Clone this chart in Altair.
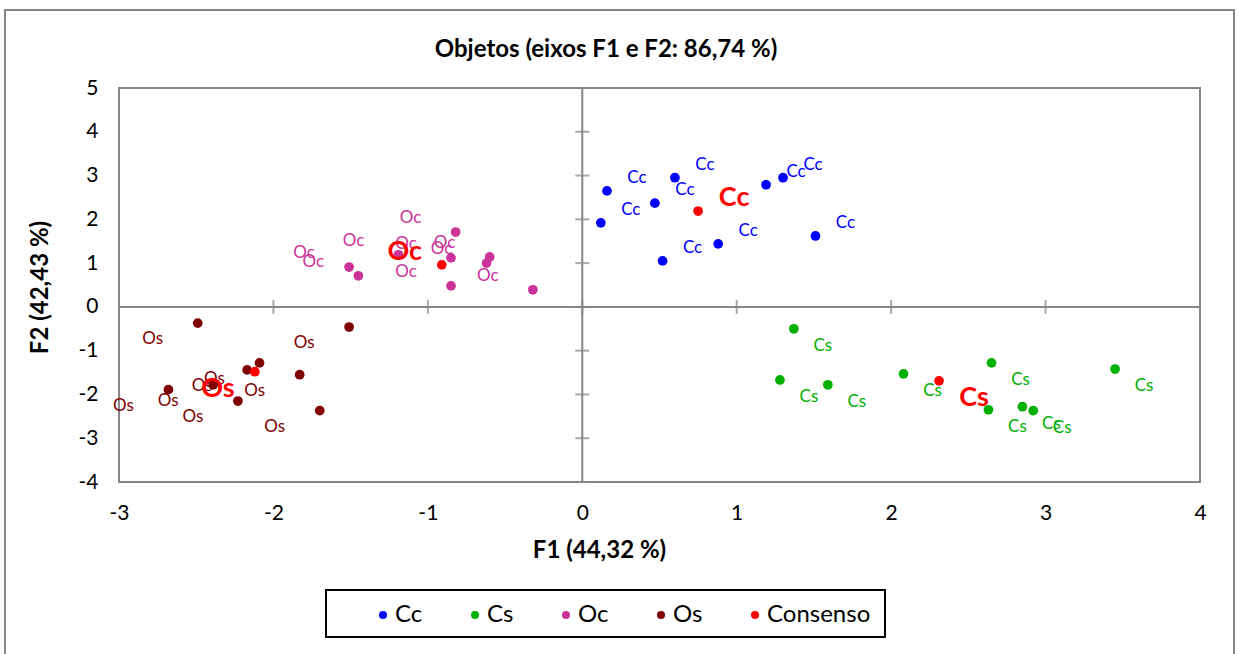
import altair as alt
import pandas as pd

# ---- data ----
grupos = ["Cc", "Cs", "Oc", "Os"]
cc_x = [0.16, 0.12, 0.60, 0.47, 0.52, 0.88, 1.19, 1.30, 1.51]
cc_y = [2.65, 1.92, 2.95, 2.37, 1.05, 1.44, 2.79, 2.95, 1.62]
cs_x = [1.37, 1.28, 1.59, 2.08, 2.65, 3.45, 2.63, 2.85, 2.92]
cs_y = [-0.50, -1.67, -1.78, -1.53, -1.28, -1.42, -2.35, -2.28, -2.37]
oc_x = [-0.82, -0.85, -0.60, -0.62, -1.51, -1.45, -1.19, -0.85, -0.32]
oc_y = [1.71, 1.12, 1.14, 1.00, 0.91, 0.71, 1.19, 0.48, 0.39]
os_x = [-2.49, -1.51, -2.09, -2.17, -1.83, -2.68, -2.39, -2.23, -1.70]
os_y = [-0.37, -0.46, -1.28, -1.44, -1.55, -1.89, -1.78, -2.15, -2.37]
cons_x = [0.75, 2.31, -0.91, -2.12]
cons_y = [2.19, -1.69, 0.96, -1.48]

x_ticks = [-3, -2, -1, 0, 1, 2, 3, 4]
y_ticks = [-4, -3, -2, -1, 0, 1, 2, 3, 4, 5]

legend_order = ["Cc", "Cs", "Oc", "Os", "Consenso"]
colors = ["#0000FF", "#00B000", "#CC3399", "#800000", "#FF0000"]

chart_title = "Objetos (eixos F1 e F2: 86,74 %)"
x_title = "F1 (44,32 %)"
y_title = "F2 (42,43 %)"

# ---- build tables ----
rows = []
for g, xs, ys in zip(grupos, [cc_x, cs_x, oc_x, os_x], [cc_y, cs_y, oc_y, os_y]):
    for xv, yv in zip(xs, ys):
        rows.append({"x": xv, "y": yv, "serie": g, "grupo": g, "label": g})
obs = pd.DataFrame(rows)
cons = pd.DataFrame({"x": cons_x, "y": cons_y, "serie": ["Consenso"] * 4,
                     "grupo": grupos, "label": grupos})
allpts = pd.concat([obs, cons], ignore_index=True)

FONT = "Lato"
GRAY = "#868686"

xscale = alt.Scale(domain=[-3, 4], nice=False, zero=False)
yscale = alt.Scale(domain=[-4, 5], nice=False, zero=False)
cscale = alt.Scale(domain=legend_order, range=colors)

xax = alt.Axis(values=x_ticks, grid=False, domain=False, ticks=False, tickSize=0,
               labelExpr="'' + datum.value", labelFlush=False, labelOverlap=False,
               labelFontSize=21, labelFont=FONT, labelColor="black", labelPadding=20,
               title=x_title, titleFont=FONT, titleFontSize=24, titleFontWeight="bold",
               titleColor="black", titleX=480, titleY=68, titleBaseline="middle", titleAlign="center")
yax = alt.Axis(values=y_ticks, grid=False, domain=False, ticks=False, tickSize=0,
               labelExpr="'' + datum.value", labelFlush=False, labelOverlap=False,
               labelFontSize=21, labelFont=FONT, labelColor="black", labelPadding=21,
               title=y_title, titleFont=FONT, titleFontSize=24, titleFontWeight="bold",
               titleColor="black", titleX=-79, titleY=199, titleBaseline="middle",
               titleAlign="center", titleAngle=270)

X = alt.X("x:Q", scale=xscale)
Y = alt.Y("y:Q", scale=yscale)

one = pd.DataFrame({"a": [0]})

outer = alt.Chart(one).mark_rect(fill="white", fillOpacity=0, stroke=GRAY, strokeWidth=2).encode(
    x=alt.value(-114), x2=alt.value(1115), y=alt.value(-78), y2=alt.value(620))

legbox = alt.Chart(one).mark_rect(fill="white", stroke="black", strokeWidth=2).encode(
    x=alt.value(207), x2=alt.value(766), y=alt.value(502), y2=alt.value(549))

title_txt = alt.Chart(one).mark_text(
    text=chart_title, font=FONT, fontSize=24, fontWeight="bold", color="black",
    align="center", baseline="middle").encode(x=alt.value(487), y=alt.value(-38))

base_axes = alt.Chart(allpts).mark_point(opacity=0).encode(
    x=alt.X("x:Q", scale=xscale, axis=xax),
    y=alt.Y("y:Q", scale=yscale, axis=yax))

vline = alt.Chart(pd.DataFrame({"x": [0]})).mark_rule(color=GRAY, strokeWidth=2).encode(x=X)
hline = alt.Chart(pd.DataFrame({"y": [0]})).mark_rule(color=GRAY, strokeWidth=2).encode(y=Y)

yt = alt.Chart(pd.DataFrame({"y": y_ticks, "x": [0] * len(y_ticks)})).mark_tick(
    orient="horizontal", size=14, thickness=2, color=GRAY).encode(x=X, y=Y)
xt = alt.Chart(pd.DataFrame({"x": x_ticks, "y": [0] * len(x_ticks)})).mark_tick(
    orient="vertical", size=14, thickness=2, color=GRAY).encode(x=X, y=Y)

points_obs = alt.Chart(obs).mark_circle(size=95, opacity=1).encode(
    x=X, y=Y,
    color=alt.Color("serie:N", scale=cscale, sort=legend_order,
                    legend=alt.Legend(title=None, orient="none", direction="horizontal",
                                      columns=5, legendX=252, legendY=515,
                                      symbolType="circle", symbolSize=64,
                                      symbolStrokeWidth=0, labelFont=FONT,
                                      labelFontSize=24, labelColor="black",
                                      labelOffset=0, columnPadding=40, padding=0)))
points_cons = alt.Chart(cons).mark_circle(size=95, opacity=1).encode(
    x=X, y=Y, color=alt.Color("serie:N", scale=cscale, legend=None))

obs_off = {"Cc": (30, -13), "Cs": (29, 17), "Oc": (-45, -14), "Os": (-45, 16)}
cons_off = {"Cc": (36, -13), "Cs": (35, 17), "Oc": (-37, -13), "Os": (-37, 17)}

obs_labels = []
cons_labels = []
for g in grupos:
    dx, dy = obs_off[g]
    obs_labels.append(alt.Chart(obs).transform_filter(alt.datum.grupo == g).mark_text(
        dx=dx, dy=dy, font=FONT, fontSize=17, align="center", baseline="middle").encode(
        x=X, y=Y, text="label:N", color=alt.Color("serie:N", scale=cscale, legend=None)))
    dx, dy = cons_off[g]
    cons_labels.append(alt.Chart(cons).transform_filter(alt.datum.grupo == g).mark_text(
        dx=dx, dy=dy, font=FONT, fontSize=27, fontWeight="bold", align="center",
        baseline="middle", color="#FF0000").encode(x=X, y=Y, text="label:N"))

chart = alt.layer(
    outer, legbox, title_txt, base_axes, vline, hline, yt, xt, points_obs, *obs_labels,
    points_cons, *cons_labels
).properties(
    width=1081, height=394,
    autosize=alt.AutoSizeParams(type="none"),
    padding={"left": 119, "top": 88, "right": 38, "bottom": 172},
    background="white",
).configure_view(stroke=GRAY, strokeWidth=2)

chart.save("out.html", embed_options={"renderer": "svg", "actions": False})
